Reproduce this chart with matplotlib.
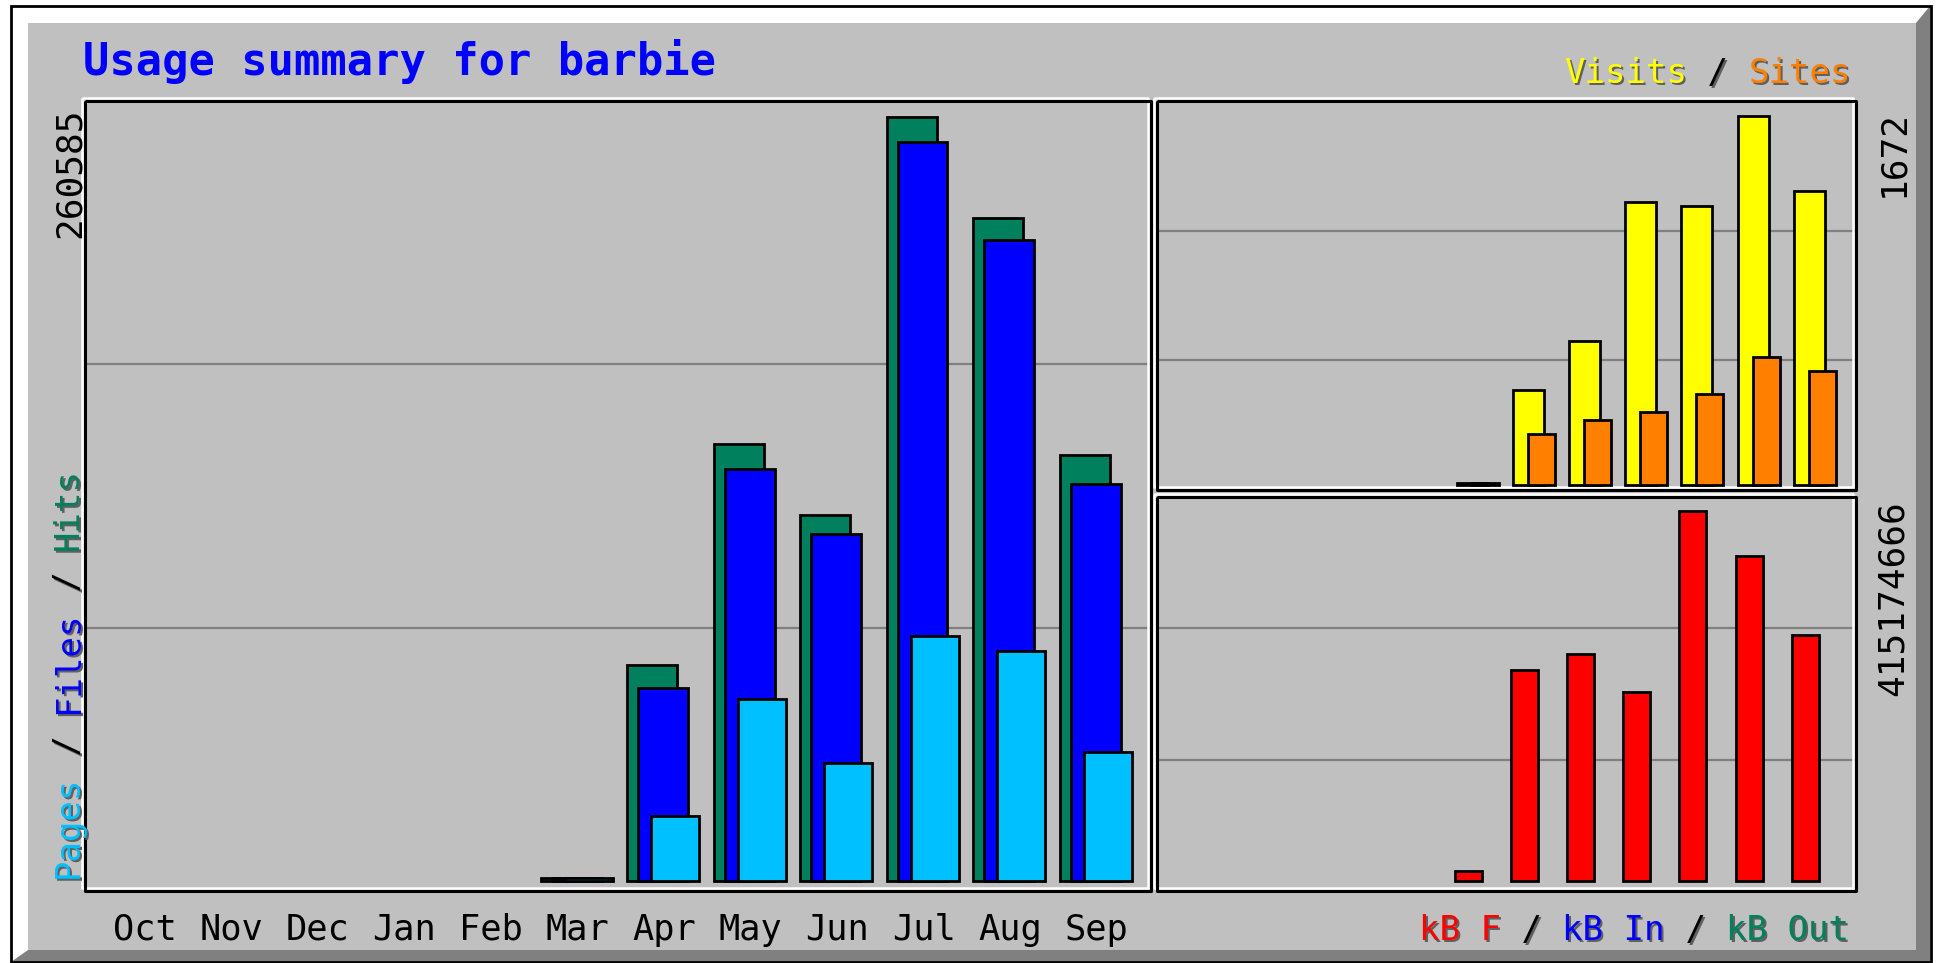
import matplotlib
matplotlib.use('Agg')
import matplotlib.pyplot as plt
from matplotlib.patches import Rectangle, Polygon
import numpy as np

# ---------------- data ----------------
months = ['Oct', 'Nov', 'Dec', 'Jan', 'Feb', 'Mar', 'Apr', 'May', 'Jun', 'Jul', 'Aug', 'Sep']
hits = [0, 0, 0, 0, 0, 1050, 73550, 149200, 124830, 260585, 226120, 145420]
files = [0, 0, 0, 0, 0, 1000, 65990, 140380, 118520, 252180, 218550, 135330]
pages = [0, 0, 0, 0, 0, 950, 22280, 62200, 40350, 83640, 78600, 44130]
visits = [0, 0, 0, 0, 0, 10, 429, 652, 1282, 1265, 1672, 1332]
sites = [0, 0, 0, 0, 0, 9, 229, 295, 329, 412, 580, 518]
kbytes = [0, 0, 0, 0, 0, 11000000, 237245000, 255180000, 212420000, 415174666, 364140000, 275870000]
title = 'Usage summary for barbie'
max_hits_label = '260585'
max_visits_label = '1672'
max_kb_label = '415174666'

# ---------------- colours ----------------
C_HITS = '#00805c'
C_FILES = '#0000ff'
C_PAGES = '#00c0ff'
C_VISITS = '#ffff00'
C_SITES = '#ff8000'
C_KB = '#ff0000'
C_BG = '#c0c0c0'
C_DARK = '#808080'

W, H = 1936, 963
fig = plt.figure(figsize=(W / 100, H / 100), dpi=100)
fig.patch.set_facecolor('white')

ov = fig.add_axes([0, 0, 1, 1])
ov.set_xlim(0, W)
ov.set_ylim(H, 0)
ov.axis('off')

MONO = 'DejaVu Sans Mono'

# ---- outer bevel frame ----
ov.add_patch(Rectangle((11, 6), 1920, 957, facecolor='white', edgecolor='none', zorder=0))
ov.add_patch(Polygon([(1930, 6), (1930, 962), (11, 962), (28, 950), (1916, 950), (1916, 23)],
                     closed=True, facecolor=C_DARK, edgecolor='none', zorder=0.5))
ov.add_patch(Rectangle((28, 23), 1888, 927, facecolor=C_BG, edgecolor='none', zorder=0.6))
ov.add_patch(Rectangle((11, 6), 1919.5, 956.5, facecolor='none', edgecolor='black', lw=2.0, zorder=1))


def sunken_box(x0, y0, x1, y1):
    ov.plot([x0 - 3, x1 - 3, x1 - 3, x0 - 3, x0 - 3], [y0 - 3, y0 - 3, y1 - 3, y1 - 3, y0 - 3],
            color='white', lw=1.8, zorder=2, solid_capstyle='butt')
    ov.plot([x0, x1, x1, x0, x0], [y0, y0, y1, y1, y0], color='black', lw=2.2, zorder=2.1,
            solid_capstyle='butt')


def grid(x0, x1, y):
    ov.plot([x0 + 1, x1 - 1], [y, y], color=C_DARK, lw=1.6, zorder=1.5)


# main box
MX0, MY0, MX1, MY1 = 85, 101, 1151, 891
# upper right box
UX0, UY0, UX1, UY1 = 1157, 101, 1856, 490
# lower right box
LX0, LY0, LX1, LY1 = 1157, 497, 1856, 891

for b in [(MX0, MY0, MX1, MY1), (UX0, UY0, UX1, UY1), (LX0, LY0, LX1, LY1)]:
    sunken_box(*b)

for f in (1 / 3, 2 / 3):
    grid(MX0, MX1, MY0 + (MY1 - MY0) * f)
    grid(UX0, UX1, UY0 + (UY1 - UY0) * f)
    grid(LX0, LX1, LY0 + (LY1 - LY0) * f)


def frac(x0, y0, x1, y1):
    return [x0 / W, 1 - y1 / H, (x1 - x0) / W, (y1 - y0) / H]


def nz(a):
    a = np.asarray(a, dtype=float)
    idx = np.nonzero(a > 0)[0]
    return idx, a[idx]


LW = 2.0

# ---- main chart: hits/files/pages ----
base_m = 881
top_hit_px = 117
ymax_m = max(hits) * (base_m - MY0) / (base_m - top_hit_px)
m0, mstep = 145.0, 86.5
axm = fig.add_axes(frac(MX0, MY0, MX1, base_m))
axm.set_xlim((MX0 - m0) / mstep, (MX1 - m0) / mstep)
axm.set_ylim(0, ymax_m)
axm.axis('off')
axm.patch.set_alpha(0)
for vals, col, off, wd in [(hits, C_HITS, -37, 50), (files, C_FILES, -26, 50), (pages, C_PAGES, -13, 48)]:
    i, v = nz(vals)
    axm.bar(i + off / mstep, v, width=wd / mstep, align='edge', color=col, edgecolor='black',
            linewidth=LW, clip_on=False)

# ---- upper right: visits/sites ----
base_u = 485
top_vis_px = 116
ymax_u = max(visits) * (base_u - UY0) / (base_u - top_vis_px)
r0, rstep = 1175.5, 56.2
axu = fig.add_axes(frac(UX0, UY0, UX1, base_u))
axu.set_xlim((UX0 - r0) / rstep, (UX1 - r0) / rstep)
axu.set_ylim(0, ymax_u)
axu.axis('off')
axu.patch.set_alpha(0)
for vals, col, off, wd in [(visits, C_VISITS, 0, 31), (sites, C_SITES, 15, 27)]:
    i, v = nz(vals)
    axu.bar(i + off / rstep, v, width=wd / rstep, align='edge', color=col, edgecolor='black',
            linewidth=LW, clip_on=False)

# ---- lower right: kB ----
base_l = 881
top_kb_px = 511
ymax_l = max(kbytes) * (base_l - LY0) / (base_l - top_kb_px)
axl = fig.add_axes(frac(LX0, LY0, LX1, base_l))
axl.set_xlim((LX0 - r0) / rstep, (LX1 - r0) / rstep)
axl.set_ylim(0, ymax_l)
axl.axis('off')
axl.patch.set_alpha(0)
i, v = nz(kbytes)
axl.bar(i - 2 / rstep, v, width=27 / rstep, align='edge', color=C_KB, edgecolor='black',
        linewidth=LW, clip_on=False)

# ---------------- texts ----------------
ov.text(83, 75, title, color='#0000ff', fontsize=31.5, fontweight='bold', family=MONO,
        ha='left', va='baseline', zorder=5)

for k, m in enumerate(months):
    ov.text(m0 + mstep * k, 940, m, color='black', fontsize=25.5, family=MONO,
            ha='center', va='baseline', zorder=5)

FS_LEG = 24.5
ADV = 0.60205 * FS_LEG * 100 / 72  # monospace advance in px


def shadow_text(x, y, s, color, rot=0, ha='left'):
    dx, dy = (2, 2)
    kw = dict(fontsize=FS_LEG, family=MONO, rotation=rot, rotation_mode='anchor',
              ha=ha, va='baseline', zorder=5)
    ov.text(x + dx, y + dy, s, color='#606060', **kw)
    ov.text(x, y, s, color=color, **kw)


def segments_h(x_right, y, segs):
    n = sum(len(s) for s, _ in segs)
    x = x_right - n * ADV
    for s, c in segs:
        shadow_text(x, y, s, c)
        x += len(s) * ADV


def segments_v(x, y_bottom, segs):
    y = y_bottom
    for s, c in segs:
        shadow_text(x, y, s, c, rot=90)
        y -= len(s) * ADV


segments_v(78, 878, [('Pages', C_PAGES), (' / ', 'black'), ('Files', C_FILES), (' / ', 'black'),
                     ('Hits', C_HITS)])
segments_h(1851, 83, [('Visits', C_VISITS), (' / ', 'black'), ('Sites', C_SITES)])
segments_h(1849, 940, [('kB F', C_KB), (' / ', 'black'), ('kB In', C_FILES), (' / ', 'black'),
                       ('kB Out', C_HITS)])

kw = dict(fontsize=26, family=MONO, rotation=90, rotation_mode='anchor', ha='right',
          va='baseline', color='black', zorder=5)
ov.text(80, 108, max_hits_label, **kw)
ov.text(1903, 110, max_visits_label, **kw)
ov.text(1903, 500, max_kb_label, **kw)

fig.savefig('out.png', dpi=100, facecolor='white')
